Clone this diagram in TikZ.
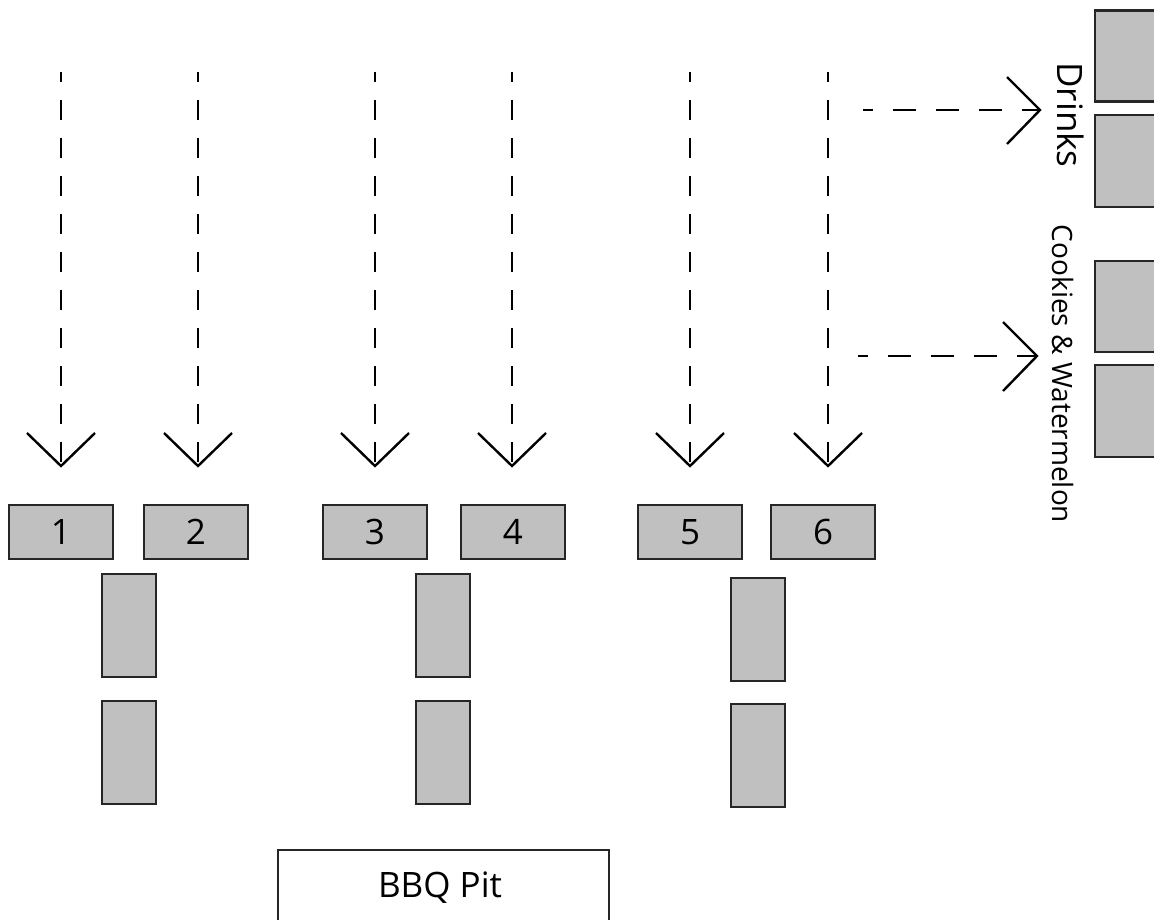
\documentclass[tikz,border=0pt]{standalone}
\usepackage{fontspec}
\setmainfont{Open Sans}
\definecolor{tablegray}{HTML}{C0C0C0}
\definecolor{edgegray}{HTML}{262626}
\begin{document}
\begin{tikzpicture}[x=1pt,y=-1pt,
  table/.style={draw=edgegray, line width=2.3pt, fill=tablegray, inner sep=0pt,
    minimum width=104pt, minimum height=54pt, font=\fontsize{35}{40}\selectfont},
  longtable/.style={draw=edgegray, line width=2.3pt, fill=tablegray, inner sep=0pt,
    minimum width=54pt, minimum height=103pt},
  sidetable/.style={draw=edgegray, line width=2.3pt, fill=tablegray, inner sep=0pt,
    minimum width=80pt},
  pit/.style={draw=edgegray, line width=2.3pt, fill=white, inner sep=0pt,
    minimum width=331pt, minimum height=80pt},
  vflow/.style={line width=2.4pt, dash pattern=on 20pt off 18pt, dash phase=10pt},
  hflow/.style={line width=2.4pt, dash pattern=on 23pt off 20pt, dash phase=13pt},
  barb/.style={line width=2.4pt, line join=miter},
  sidelabel/.style={rotate=-90, anchor=base, inner sep=0pt}
]
\clip (0,0) rectangle (1154,920);

% serving tables 1-6
\node[table] (t1) at (61,532) {1};
\node[table] (t2) at (196,532) {2};
\node[table] (t3) at (375,532) {3};
\node[table] (t4) at (513,532) {4};
\node[table] (t5) at (690,532) {5};
\node[table] (t6) at (823,532) {6};

% long tables below each pair
\node[longtable] (a1) at (129,625.5) {};
\node[longtable] (a2) at (129,752.5) {};
\node[longtable] (b1) at (443,625.5) {};
\node[longtable] (b2) at (443,752.5) {};
\node[longtable] (c1) at (758,629.5) {};
\node[longtable] (c2) at (758,755.5) {};

% drinks and dessert tables on the right edge
\node[sidetable, minimum height=91pt] (d1) at (1135,56) {};
\node[sidetable, minimum height=92pt] (d2) at (1135,161) {};
\node[sidetable, minimum height=91pt] (w1) at (1135,306.5) {};
\node[sidetable, minimum height=92pt] (w2) at (1135,411) {};

\node[sidelabel, font=\fontsize{35}{40}\selectfont] (drinks) at (1057,115) {Drinks};
\node[sidelabel, font=\fontsize{28}{34}\selectfont] (cookies) at (1052,374) {Cookies \& Watermelon};

% grill, with its caption set on a fixed baseline
\node[pit] (bbq) at (443.5,890) {};
\node[anchor=base, inner sep=0pt, font=\fontsize{35}{40}\selectfont] (bbqtext) at (440,897) {BBQ Pit};

% queue lines down to the tables
\foreach \i/\x in {1/61,2/198,3/375,4/512,5/690,6/828}{
  \coordinate (s\i) at (\x,72);
  \coordinate (e\i) at (\x,466);
  \draw[vflow] (s\i) -- (e\i);
  \draw[barb] ([shift={(-34,-33)}]e\i) -- (e\i) -- ([shift={(34,-33)}]e\i);
}

% side paths to drinks and dessert
\coordinate (hd0) at (863,110);
\coordinate (hd1) at (1040,110);
\draw[hflow] (hd0) -- (hd1);
\draw[barb] ([shift={(-33,-33)}]hd1) -- (hd1) -- ([shift={(-33,34)}]hd1);

\coordinate (hc0) at (858,356);
\coordinate (hc1) at (1037,356);
\draw[hflow] (hc0) -- (hc1);
\draw[barb] ([shift={(-34,-34)}]hc1) -- (hc1) -- ([shift={(-34,35)}]hc1);
\end{tikzpicture}
\end{document}
